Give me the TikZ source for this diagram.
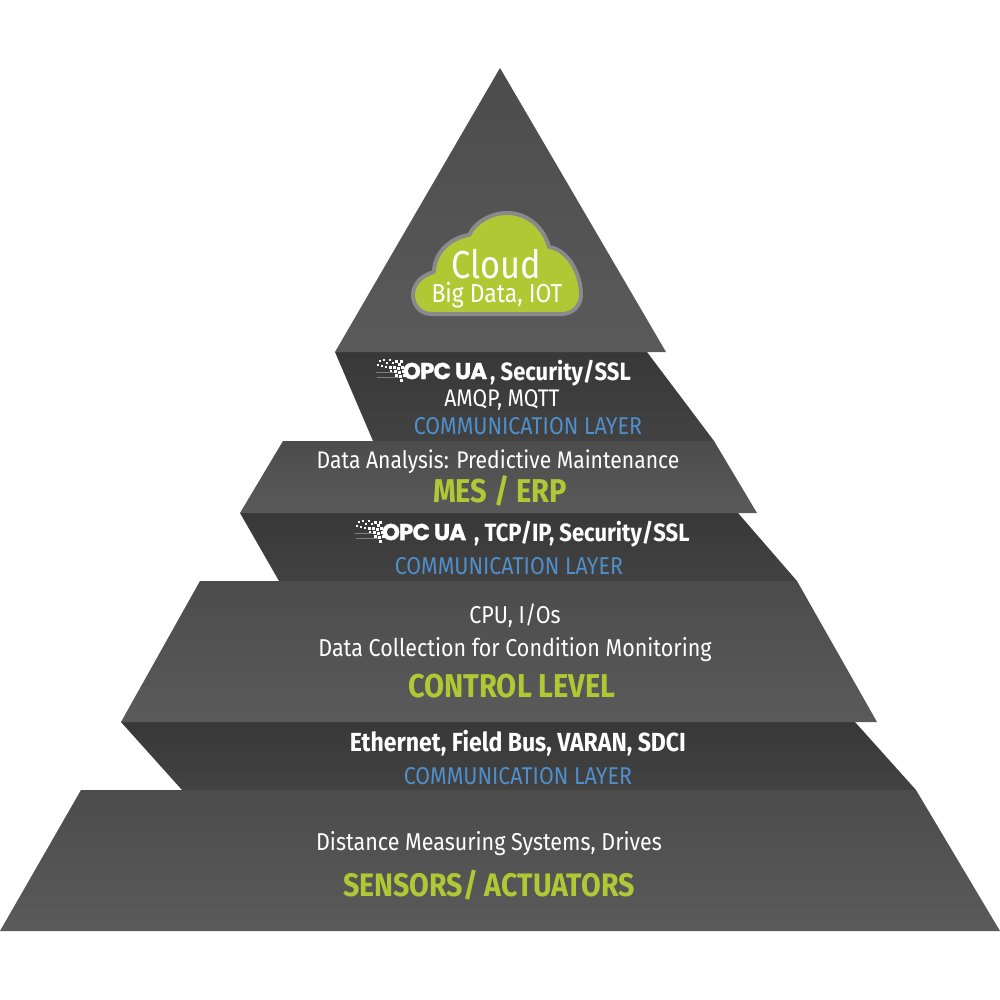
\documentclass[tikz,border=0pt]{standalone}
\usepackage{fontspec}
\setmainfont{Fira Sans}[FakeStretch=0.88]
\newfontfamily\logof{Poppins}[FakeBold=1.2,LetterSpace=-4]
\definecolor{greenA}{HTML}{B1C835}
\definecolor{blueA}{HTML}{4F8FCB}
\definecolor{cloudedge}{HTML}{8A8A8A}
\definecolor{tierTop}{HTML}{4C4C4C}
\definecolor{tierBot}{HTML}{5A5A5A}
\definecolor{commTop}{HTML}{383838}
\definecolor{commBot}{HTML}{424242}
\tikzset{
  tier/.style={top color=tierTop,bottom color=tierBot,draw=none},
  comm/.style={top color=commTop,bottom color=commBot,draw=none},
  lbl/.style={text=white,inner sep=0pt,anchor=center,font=\fontsize{#1}{#1}\selectfont},
  lblb/.style={text=white,inner sep=0pt,anchor=center,font=\fontsize{#1}{#1}\selectfont\bfseries},
  commlbl/.style={text=blueA,inner sep=0pt,anchor=center,font=\fontsize{24.3}{24.3}\selectfont},
  head/.style={text=greenA,inner sep=0pt,anchor=center,font=\fontsize{#1}{#1}\selectfont\bfseries},
  logotxt/.style={text=white,inner sep=0pt,anchor=center,font=\fontsize{23}{23}\logof\bfseries},
}
\newcommand{\logodots}[2]{%
  \begin{scope}[shift={(#1,#2)}]
    \draw[white,opacity=.35,line width=.5pt] (-1,4) -- (18,4) (0,9) -- (22,9);
    \foreach \x/\y/\s in {2/-8/1.5,6/-9/1.5,9/-6/2,12/-9/1.5,15/-6/2,18/-8/2.5,21/-5/2.5,23/-8/3,
      0/-4/1.5,4/-3/1.5,8/-2/2,12/-2/2.5,16/-2/2.5,20/-1/3,24/-2/3,
      13/2/2,17/2/2.5,21/3/3,25/2/3,18/6/2.5,22/7/3,26/6/3,23/11/2.5}
      \fill[white] (\x,\y) rectangle ++(\s,\s);
  \end{scope}}
\begin{document}
\begin{tikzpicture}[x=1pt,y=-1pt]
\useasboundingbox (0,0) rectangle (1000,1000);
\fill[white] (0,0) rectangle (1000,1000);
% communication layers
\path[comm] (335,352) -- (647,352) -- (714,441) -- (373,441) -- cycle;
\path[comm] (240,513) -- (738,513) -- (797,581) -- (279,581) -- cycle;
\path[comm] (121,722) -- (855,722) -- (916,790) -- (182,790) -- cycle;
% tiers
\path[tier] (500,68) -- (666,352) -- (335,352) -- cycle;
\path[tier] (283,441) -- (714,441) -- (757,513) -- (240,513) -- cycle;
\path[tier] (200,581) -- (797,581) -- (877,722) -- (121,722) -- cycle;
\path[tier] (81,790) -- (916,790) -- (1000,931) -- (0,931) -- cycle;
% cloud
\path[fill=greenA,draw=cloudedge,line width=4pt,line join=round]
  (432,314) .. controls (420,314) and (413,305) .. (413,295)
  .. controls (413,284) and (422,275) .. (434,272)
  .. controls (434,253) and (450,238) .. (469,235)
  .. controls (476,221) and (492,213) .. (507,213)
  .. controls (528,213) and (544,228) .. (549,247)
  .. controls (569,250) and (581,275) .. (581,295)
  .. controls (581,306) and (572,314) .. (562,314) -- cycle;
\node[lbl=39] (cloud) at (496,264) {Cloud};
\node[lbl=26] (bigdata) at (497,295) {Big Data, IOT};
% OPC line 1
\logodots{377}{368}
\node[logotxt] (opcA) at (445,371) {OPC UA};
\node[lblb=25,anchor=west] (secA) at (490,373) {, Security/SSL};
\node[lbl=24] (amqp) at (502,400) {AMQP, MQTT};
\node[commlbl] (commA) at (528,426) {COMMUNICATION LAYER};
% MES
\node[lbl=24] (data) at (498,462) {Data Analysis: Predictive Maintenance};
\node[head=33] (mes) at (500,491) {MES / ERP};
% OPC line 2
\logodots{356}{529}
\node[logotxt] (opcB) at (424,532) {OPC UA};
\node[lblb=25,anchor=west] (secB) at (474,534) {, TCP/IP, Security/SSL};
\node[commlbl] (commB) at (509,566) {COMMUNICATION LAYER};
% Control
\node[lbl=24.4] (cpu) at (515,616) {CPU, I/Os};
\node[lbl=24.4] (dcoll) at (515,650) {Data Collection for Condition Monitoring};
\node[head=33] (ctrl) at (512,686) {CONTROL LEVEL};
% Field
\node[lblb=26.2] (eth) at (518,743) {Ethernet, Field Bus, VARAN, SDCI};
\node[commlbl] (commC) at (518,776) {COMMUNICATION LAYER};
% Sensors
\node[lbl=24.4] (dist) at (489,844) {Distance Measuring Systems, Drives};
\node[head=32.5] (sens) at (489,885) {SENSORS/ ACTUATORS};
\end{tikzpicture}
\end{document}
